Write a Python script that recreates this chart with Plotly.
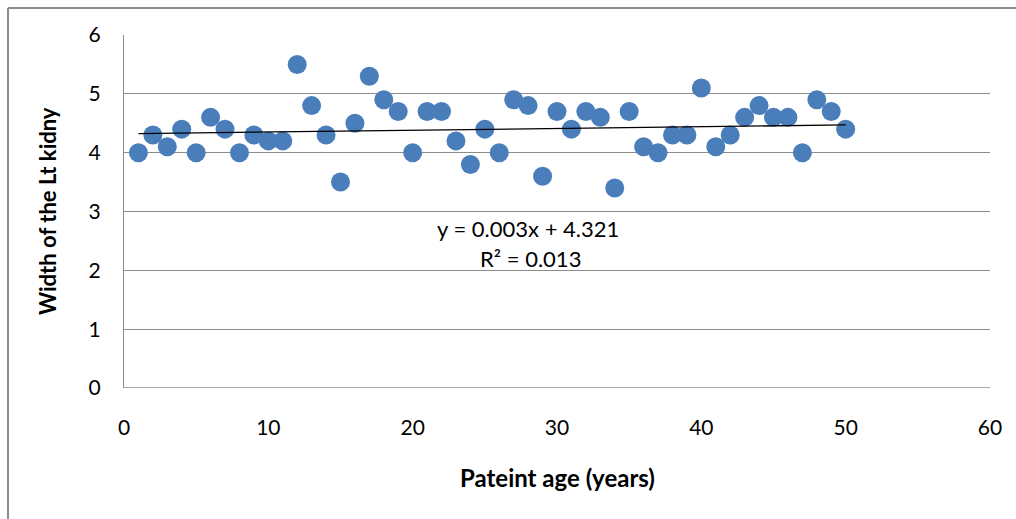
import plotly.graph_objects as go

ages = list(range(1, 51))
widths = [4.0, 4.3, 4.1, 4.4, 4.0, 4.6, 4.4, 4.0, 4.3, 4.2,
          4.2, 5.5, 4.8, 4.3, 3.5, 4.5, 5.3, 4.9, 4.7, 4.0,
          4.7, 4.7, 4.2, 3.8, 4.4, 4.0, 4.9, 4.8, 3.6, 4.7,
          4.4, 4.7, 4.6, 3.4, 4.7, 4.1, 4.0, 4.3, 4.3, 5.1,
          4.1, 4.3, 4.6, 4.8, 4.6, 4.6, 4.0, 4.9, 4.7, 4.4]
slope = 0.003
intercept = 4.321
r2 = 0.013
x_ticks = [0, 10, 20, 30, 40, 50, 60]
y_ticks = [0, 1, 2, 3, 4, 5, 6]

trend_x = [min(ages), max(ages)]
trend_y = [slope * v + intercept for v in trend_x]

W, H = 1016, 519
L, R, T, B = 124, 26, 35, 131
pw = W - L - R
ph = H - T - B

fig = go.Figure()
fig.add_trace(go.Scatter(x=ages, y=widths, mode="markers",
                         marker=dict(size=19, color="#4a7ebb", line=dict(width=0)),
                         showlegend=False))
fig.add_trace(go.Scatter(x=trend_x, y=trend_y, mode="lines",
                         line=dict(color="black", width=1.3), showlegend=False))

font = "Lato, 'Open Sans', sans-serif"
fig.update_layout(
    width=W, height=H,
    margin=dict(l=L, r=R, t=T, b=B, autoexpand=False),
    paper_bgcolor="white", plot_bgcolor="white",
    font=dict(family=font, size=21, color="black"),
    xaxis=dict(range=[0, 60], tickvals=x_ticks, showgrid=False, zeroline=False,
               showline=False, ticks="", tickfont=dict(size=21), ticklabelstandoff=25,
               automargin=False),
    yaxis=dict(range=[0, 6], tickvals=y_ticks, showgrid=True, gridcolor="#8c8c8c", gridwidth=1.3,
               zeroline=False, showline=True, linecolor="#8c8c8c", linewidth=1.3, ticks="",
               tickfont=dict(size=21), ticklabelstandoff=18, automargin=False),
)

# bottom axis line
fig.add_shape(type="line", xref="paper", yref="y", x0=0, x1=1, y0=0, y1=0,
              line=dict(color="#8c8c8c", width=1.3))

# chart border (left and top)
bx = (8 - L) / pw
by = (H - B - 8) / ph
fig.add_shape(type="line", xref="paper", yref="paper", x0=bx, x1=(W + 10 - L) / pw, y0=by, y1=by,
              line=dict(color="#8c8c8c", width=2))
fig.add_shape(type="line", xref="paper", yref="paper", x0=bx, x1=bx, y0=by, y1=-(B + 10) / ph,
              line=dict(color="#8c8c8c", width=2))

# axis titles
fig.add_annotation(x=(557 - L) / pw, y=(H - B - 477) / ph, xref="paper", yref="paper",
                   text="<b>Pateint age (years)</b>", showarrow=False,
                   font=dict(size=24), xanchor="center", yanchor="middle")
fig.add_annotation(x=(47 - L) / pw, y=(H - B - 211) / ph, xref="paper", yref="paper",
                   text="<b>Width of the Lt kidny</b>", showarrow=False, textangle=-90,
                   font=dict(size=22), xanchor="center", yanchor="middle")

fig.add_annotation(x=(528 - L) / pw, y=(H - B - 228) / ph, xref="paper", yref="paper",
                   text=f"y = {slope:.3f}x + {intercept:.3f}", showarrow=False,
                   font=dict(size=22), xanchor="center", yanchor="middle")
fig.add_annotation(x=(530 - L) / pw, y=(H - B - 258) / ph, xref="paper", yref="paper",
                   text=f"R² = {r2:.3f}", showarrow=False,
                   font=dict(size=22), xanchor="center", yanchor="middle")

fig.write_html("out.html", config={"displayModeBar": False},
               post_script="document.body.style.margin='0';document.body.style.overflow='hidden';")
